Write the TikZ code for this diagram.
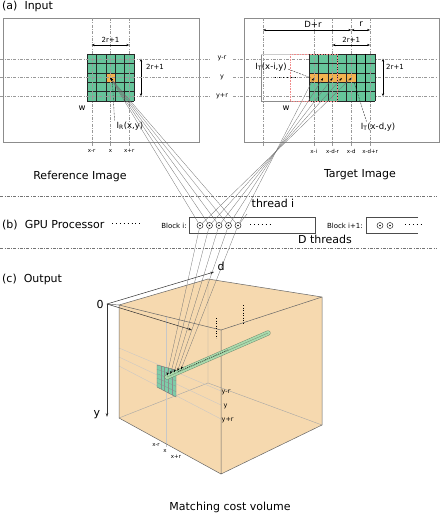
\documentclass[tikz,border=0pt]{standalone}
\usepackage{fontspec}
\setmainfont{DejaVu Sans}
\usetikzlibrary{arrows.meta,calc}
\definecolor{cellgreen}{HTML}{66C49A}
\definecolor{cellorange}{HTML}{F3B34F}
\definecolor{volfill}{HTML}{F6D9AF}
\definecolor{stripgreen}{HTML}{A9D9AC}
\definecolor{redwin}{HTML}{F08A8A}
\tikzset{
  guide/.style={black!40, line width=0.3pt, dash pattern=on 3pt off 1.5pt on 0.6pt off 1.5pt},
  sep/.style={black!55, line width=0.35pt, dash pattern=on 3pt off 1.5pt on 0.6pt off 1.5pt},
  frame/.style={draw=black!45, line width=0.6pt},
  cellgrid/.style={black!85, line width=0.45pt},
  patchgrid/.style={black!45, line width=0.25pt},
  biglab/.style={font=\fontsize{11}{13}\selectfont, inner sep=1pt},
  midlab/.style={font=\fontsize{8.5}{10}\selectfont, inner sep=1pt},
  smalllab/.style={font=\fontsize{7}{8}\selectfont, inner sep=1pt},
  tinylab/.style={font=\fontsize{5.5}{6.5}\selectfont, inner sep=0.5pt},
  dimarrow/.style={{Stealth[length=3pt,width=2.2pt]}-{Stealth[length=3pt,width=2.2pt]}, line width=0.5pt},
  ray/.style={black!55, line width=0.3pt, -{Stealth[length=3pt,width=2pt,black]}},
  pointer/.style={black!80, line width=0.4pt, dash pattern=on 2pt off 1pt},
  dotrow/.style={line width=0.9pt, dash pattern=on 0.9pt off 3pt},
  thread/.style={circle, draw, line width=0.4pt, minimum size=6pt, inner sep=0pt,
    path picture={\fill (path picture bounding box.center) circle (0.9pt);}},
  hidden/.style={black!35, line width=0.4pt},
  edge/.style={black!60, line width=0.5pt},
  faint/.style={black!22, line width=0.35pt},
  axis/.style={black!80, line width=0.5pt, -{Stealth[length=4pt,width=2.6pt]}},
}
\begin{document}
\begin{tikzpicture}[x=1pt,y=-1pt]
 \useasboundingbox (0,0) rectangle (443,513);
 % (a) input
 \node[biglab, anchor=west] (secA) at (1,6) {(a)\ \ Input};
 \begin{scope}
  \draw[frame] (3,18) rectangle (199,142);
  \fill[cellgreen] (87,54) rectangle (134,101);
  \fill[cellorange] (105.8,72.8) rectangle (115.2,82.2);
  \foreach \i in {0,...,5} {
    \draw[cellgrid] (87+9.4*\i,54) -- (87+9.4*\i,101);
    \draw[cellgrid] (87,54+9.4*\i) -- (134,54+9.4*\i);
  }
  \foreach \gx/\gl [count=\k] in {91.7/x-r, 110.5/x, 129.3/x+r} {
    \draw[guide] (\gx,18) -- (\gx,147);
    \node[tinylab] (refx\k) at (\gx,151) {\gl};
  }
  \coordinate (refpix) at (110.5,78);
  \coordinate (refptr) at (112.5,83);
  \draw[dimarrow] (91.7,45) -- node[smalllab, above=1pt] (refw) {2r+1} (129.3,45);
  \draw[dimarrow] (141,58.7) -- (141,96.3);
  \node[smalllab] (refh) at (155,67) {2r+1};
  \node[midlab] (refwin) at (82,108) {w};
  \node[midlab] (irlab) at (130,126) {I\textsubscript{R}(x,y)};
  \draw[pointer] (irlab.north west) ++(-1,0) -- (refptr);
  \node[biglab] (refname) at (80,176) {Reference Image};
 \end{scope}
 % horizontal guides across both images
 \foreach \gy/\gl [count=\k] in {58.7/y-r, 77.5/y, 96.3/y+r} {
   \draw[guide] (0,\gy) -- (211,\gy);
   \draw[guide] (233,\gy) -- (437,\gy);
   \node[tinylab, font=\fontsize{6.5}{7.5}\selectfont] (midy\k) at (222,\gy) {\gl};
 }
 \begin{scope}
  \draw[frame] (244,18) rectangle (439,142);
  \draw[black!45, line width=0.6pt] (309,101) -- (261,101) -- (261,54);
  \draw[black!20, line width=0.4pt] (261,54) -- (309,54);
  \fill[cellgreen] (309,54) rectangle (374.8,101);
  \fill[cellorange] (309,72.8) rectangle (356,82.2);
  \foreach \i in {0,...,7}
    \draw[cellgrid] (309+9.4*\i,54) -- (309+9.4*\i,101);
  \foreach \j in {0,...,5}
    \draw[cellgrid] (309,54+9.4*\j) -- (374.8,54+9.4*\j);
  \draw[line width=0.8pt] (356,54) -- (356,101);
  \draw[line width=1.1pt] (365.4,54) -- (365.4,101);
  \draw[redwin, densely dotted, line width=0.6pt] (290.2,54) rectangle (337.2,101);
  \draw[guide] (263,18) -- (263,147);
  \foreach \gx/\gl [count=\k] in {313.7/x-i, 332.5/x-d-r, 351.3/x-d, 370.1/x-d+r} {
    \draw[guide] (\gx,18) -- (\gx,147);
    \node[tinylab] (tgtx\k) at (\gx,151) {\gl};
  }
  \draw[dimarrow] (263,30) -- (351.3,30);
  \node[midlab] (dplusr) at (313,24) {D+r};
  \draw[dimarrow] (351.3,30) -- (370.1,30);
  \node[midlab] (rlab) at (361,24) {r};
  \draw[dimarrow] (332.5,45) -- node[smalllab, above=1pt] (tgtw) {2r+1} (370.1,45);
  \draw[dimarrow] (383,58.7) -- (383,96.3);
  \node[smalllab] (tgth) at (395,67) {2r+1};
  \node[midlab] (tgtwin) at (286,108) {w};
  \foreach \k in {1,...,5}
    \coordinate (tc\k) at ({313.7+9.4*(5-\k)},78);
  \node[midlab] (itilab) at (271,67) {I\textsubscript{T}(x-i,y)};
  \draw[dotrow] (275,77) -- (295,77);
  \coordinate (itiptr) at (311,78);
  \draw[pointer] (itilab.east) ++(0,2) -- (itiptr);
  \node[midlab] (itdlab) at (378,127) {I\textsubscript{T}(x-d,y)};
  \coordinate (itdptr) at (354,82);
  \draw[pointer] (itdlab.north west) ++(7,0) -- (itdptr);
  \node[biglab] (tgtname) at (360,175) {Target Image};
 \end{scope}
 % (b) GPU processor
 \draw[sep] (0,196) -- (437,196);
 \draw[sep] (0,248) -- (437,248);
 \node[biglab, anchor=west] (secB) at (1,225) {(b)\ \ GPU Processor};
 \draw[dotrow] (112,223) -- (141,223);
 \node[smalllab, anchor=east] (blkilab) at (188,226) {Block i:};
 \draw[black!70, line width=0.5pt] (189,217) rectangle (315,233);
 \foreach \k in {1,...,5}
   \node[thread] (t\k) at ({200+9.5*(\k-1)},225.5) {};
 \draw[dotrow] (250,224) -- (271,224);
 \node[biglab] (thr) at (273,203) {thread i};
 \coordinate (thrtip) at (247,214);
 \draw[black!60, line width=0.3pt] (thrtip) -- (t5);
 \node[biglab] (dthr) at (325,239) {D threads};
 \node[smalllab, anchor=east] (blkjlab) at (364,226) {Block i+1:};
 \draw[black!70, line width=0.5pt] (418,217) -- (366,217) -- (366,233) -- (418,233);
 \node[thread] (u1) at (380,225.5) {};
 \node[thread] (u2) at (390,225.5) {};
 \draw[dotrow] (405,224) -- (424,224);
 % rays from threads to the pixels
 \foreach \k in {1,...,5} {
   \draw[ray] (t\k) -- (refpix);
   \draw[ray] (t\k) -- (tc\k);
 }
 % (c) output
 \node[biglab, anchor=west] (secC) at (1,279) {(c)\ \ Output};
 \coordinate (A) at (119,305);
 \coordinate (B) at (221,330);
 \coordinate (C) at (322,297);
 \coordinate (D) at (208,279);
 \coordinate (E) at (119,418);
 \coordinate (F) at (221,474);
 \coordinate (G) at (322,425);
 \coordinate (H) at (208,383);
 \fill[volfill] (A)--(D)--(C)--(G)--(F)--(E)--cycle;
 \draw[hidden] (D)--(H) (H)--(E) (H)--(G);
 \draw[faint] (119,348) -- (221,391);
 \draw[faint] (119,357) -- (221,405);
 \draw[faint] (119,366) -- (221,419);
 \draw[faint] (166,317) -- (166,447);
 \draw[edge] (A)--(D)--(C)--(G)--(F)--(E)--cycle (A)--(B)--(C) (B)--(F);
 \draw[black, line width=0.5pt, dotted] (216,318) -- (216,338);
 \draw[black, line width=0.5pt, dotted] (243,305) -- (243,324);
 \coordinate (P1) at (157,365);
 \coordinate (P2) at (176,370);
 \coordinate (P3) at (176,397);
 \coordinate (P4) at (157,387);
 \fill[cellgreen!85!white] (P1)--(P2)--(P3)--(P4)--cycle;
 \foreach \f in {0.2,0.4,0.6,0.8} {
   \draw[patchgrid] ($(P1)!\f!(P2)$) -- ($(P4)!\f!(P3)$);
   \draw[patchgrid] ($(P1)!\f!(P4)$) -- ($(P2)!\f!(P3)$);
 }
 \draw[black!55, line width=0.4pt] (P1)--(P2)--(P3)--(P4)--cycle;
 \coordinate (s0) at (167,377);
 \coordinate (s1) at (268,333);
 \draw[stripgreen!60!black, line width=5pt, line cap=round] (s0) -- (s1);
 \draw[stripgreen, line width=4.2pt, line cap=round] (s0) -- (s1);
 \draw[stripgreen!60!black, line width=0.25pt] (s0) -- (s1);
 \draw[black, line width=0.6pt, dash pattern=on 0.6pt off 1.4pt] (178,371.5) -- (229,349.5);
 \foreach \k in {1,...,5}
   \coordinate (vc\k) at ({167+3.5*(\k-1)},{375.5-0.436*3.5*(\k-1)});
 \foreach \k in {1,...,5}
   \draw[ray] (t\k) -- (vc\k);
 \node[tinylab, font=\fontsize{6.5}{7.5}\selectfont, anchor=west] (vyr1) at (221,392) {y-r};
 \node[tinylab, font=\fontsize{6.5}{7.5}\selectfont, anchor=west] (vy) at (223,406) {y};
 \node[tinylab, font=\fontsize{6.5}{7.5}\selectfont, anchor=west] (vyr2) at (221,420) {y+r};
 \node[tinylab] (vxr1) at (156,445) {x-r};
 \node[tinylab] (vx) at (165,451) {x};
 \node[tinylab] (vxr2) at (176,457) {x+r};
 % axes
 \coordinate (O) at (107,304);
 \coordinate (yend) at (107,417);
 \coordinate (dend) at (214,272);
 \coordinate (xend) at (192,330);
 \draw[edge] (O) -- (A);
 \draw[axis] (O) -- (yend);
 \draw[axis] (O) -- (dend);
 \draw[axis] (O) -- (xend);
 \node[biglab] (zero) at (100,304) {0};
 \node[biglab] (ylab) at (97,415) {y};
 \node[biglab] (dlab) at (221,266) {d};
 \node[biglab] (volname) at (230,507) {Matching cost volume};
\end{tikzpicture}
\end{document}
